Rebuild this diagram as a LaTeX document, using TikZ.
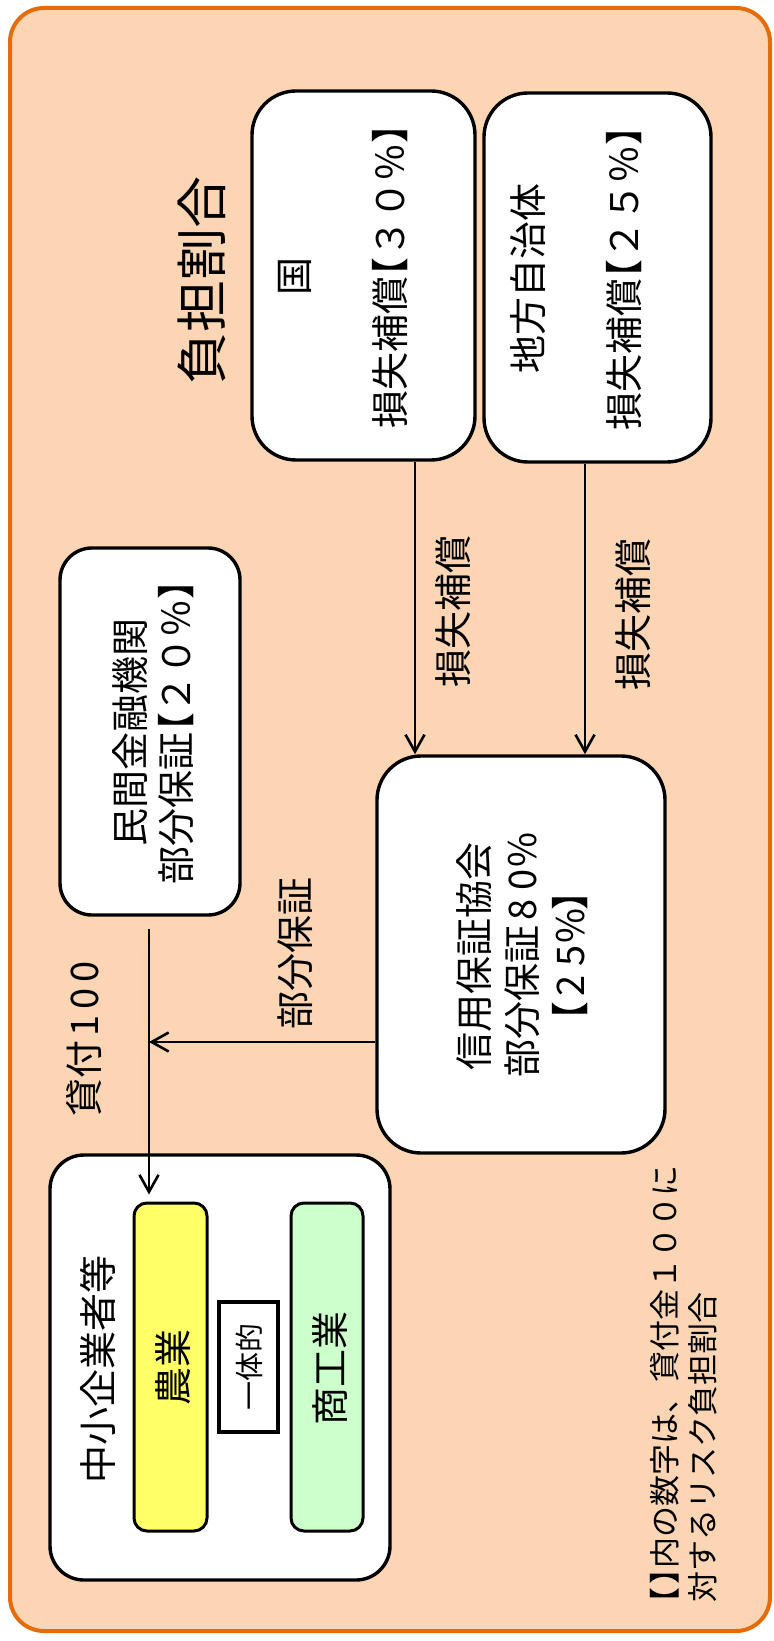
\documentclass[tikz,border=0pt]{standalone}
\usepackage{fontspec}
\setmainfont{Noto Sans CJK JP}
\newfontfamily\haltfont{Noto Sans CJK JP}[RawFeature=+halt]
\usetikzlibrary{arrows.meta,calc}
\definecolor{peach}{RGB}{252,213,181}
\definecolor{orng}{RGB}{228,108,10}
\definecolor{yel}{RGB}{255,255,102}
\definecolor{grn}{RGB}{204,255,204}
\newcommand\hw[1]{\makebox[0.8em][c]{#1}}
\newcommand\hx[1]{\makebox[0.72em][c]{#1}}
\newcommand\lbr{{\haltfont 【}}
\newcommand\rbr{{\haltfont 】}}
\begin{document}
\begin{tikzpicture}[x=0.5pt,y=-0.5pt,
  box/.style={draw=black, line width=1.7pt, fill=white, rounded corners=22pt, inner sep=0pt},
  sbox/.style={draw=black, line width=1.5pt, rounded corners=6.5pt, inner sep=0pt},
  txt/.style={rotate=90, inner sep=0pt, font=\fontsize{19pt}{24pt}\selectfont, align=center},
  arr/.style={line width=1.3pt, -{Straight Barb[length=8.5pt,width=9.5pt,line width=1.3pt]}},
]
\useasboundingbox (0,0) rectangle (774,1641);
\node[draw=orng, line width=2pt, fill=peach, rounded corners=17pt, minimum width=380pt, minimum height=811.5pt, inner sep=0pt] (outer) at (390,819.5) {};

% boxes
\node[box, minimum width=111.5pt, minimum height=184.5pt] (guo) at (363.5,275.5) {};
\node[box, minimum width=113.5pt, minimum height=184.5pt] (chiho) at (597.5,277.5) {};
\node[box, rounded corners=16pt, minimum width=90pt, minimum height=183.5pt] (minkan) at (150,731.5) {};
\node[box, minimum width=144pt, minimum height=198.5pt] (shinyo) at (521,954.5) {};
\node[box, rounded corners=17pt, minimum width=170pt, minimum height=212.5pt] (chusho) at (220,1367.5) {};
\node[sbox, fill=yel, minimum width=36.5pt, minimum height=164pt] (nogyo) at (170.5,1367) {};
\node[draw=black, line width=1.8pt, fill=white, inner sep=0pt, minimum width=29.5pt, minimum height=65pt] (ittai) at (248.5,1367) {};
\node[sbox, fill=grn, minimum width=36pt, minimum height=164pt] (shoko) at (327,1367) {};

% texts
\node[txt, font=\fontsize{26pt}{30pt}\selectfont] (ttl) at (202,281) {負担割合};
\node[txt, font=\fontsize{19pt}{48pt}\selectfont] (guot) at (343,277) {国\\損失補償\lbr ３０％\rbr};
\node[txt, font=\fontsize{19pt}{48pt}\selectfont] (chihot) at (576,279) {地方自治体\\損失補償\lbr ２５％\rbr};
\node[txt, font=\fontsize{19pt}{23pt}\selectfont] (minkant) at (153,732) {民間金融機関\\部分保証\lbr ２０％\rbr};
\node[txt] (shinyot) at (522,956) {信用保証協会\\部分保証\hw{8}\hw{0}\hw{\%}\\\lbr\hw{2}\hw{5}\hw{\%}\rbr};
\node[txt] (lab1) at (453,611) {損失補償};
\node[txt] (lab2) at (633,614) {損失補償};
\node[txt] (lab3) at (295,953) {部分保証};
\node[txt] (lab4) at (84,1037) {貸付\hx{1}\hx{0}\hx{0}};
\node[txt] (chushot) at (98,1369) {中小企業者等};
\node[txt] (nogyot) at (173,1367) {農業};
\node[txt, font=\fontsize{14.5pt}{18pt}\selectfont] (ittait) at (249,1367) {一体的};
\node[txt] (shokot) at (330,1368) {商工業};
\node[rotate=90, anchor=west, align=left, inner sep=0pt, font=\fontsize{15.5pt}{19pt}\selectfont] (note) at (684,1603) {\lbr\kern0.1em\rbr 内の数字は、貸付金１００に\\対するリスク負担割合};

% connectors
\coordinate (ax1) at (415,0);
\coordinate (ax2) at (585,0);
\coordinate (junc) at (149,1042);
\draw[arr] (guo.south -| ax1) -- (ax1 |- shinyo.north);
\draw[arr] (chiho.south -| ax2) -- (ax2 |- shinyo.north);
\draw[arr, shorten <=6pt, shorten >=3.5pt] (minkan.south -| junc) -- (junc |- nogyo.north);
\draw[arr] (shinyo.west |- junc) -- (junc);
\end{tikzpicture}
\end{document}
